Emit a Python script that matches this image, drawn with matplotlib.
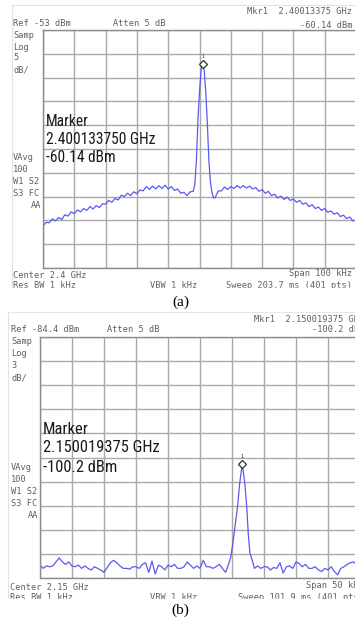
import numpy as np
import matplotlib.pyplot as plt
from matplotlib import font_manager
from matplotlib.patches import Rectangle

# ---- panel (a): centre 2.4 GHz, span 100 kHz, ref -53 dBm, 5 dB/div ----
floor_a_left = [
    -94.2, -93.4, -93.5, -92.7, -93.1, -92.4, -92.8, -91.8, -92.1, -91.2,
    -91.6, -90.8, -91.2, -90.5, -90.9, -90.1, -90.6, -89.9, -90.3, -89.5,
    -89.6, -88.8, -89.2, -88.4, -88.7, -87.7, -88.0, -87.3, -87.8, -87.0,
    -87.4, -86.6, -86.8, -85.9, -86.5, -85.8, -86.4, -85.7, -86.3, -85.6,
    -86.4, -85.9, -86.7, -86.4, -87.3, -87.1, -87.8, -87.0,
]  # -50 .. -3 kHz
peak_a_khz = [-2.0, -1.5, -1.0, -0.5, 0.0, 0.5, 1.0, 1.5, 2.0, 2.5, 3.0, 3.5, 4.0, 4.5]
peak_a_dbm = [-86.9, -85.5, -80.5, -72.0, -66.0, -61.5, -60.14, -61.5, -66.0,
              -72.5, -80.5, -85.0, -87.2, -88.3]
floor_a_right = [
    -88.2, -86.8, -86.8, -86.0, -86.5, -85.9, -86.3, -85.7, -86.2, -85.7,
    -86.2, -85.8, -86.4, -86.1, -86.9, -86.5, -87.3, -86.9, -87.8, -87.5,
    -88.3, -87.9, -88.6, -88.1, -88.8, -88.5, -89.2, -88.8, -89.6, -89.3,
    -90.1, -89.7, -90.5, -90.2, -90.9, -90.5, -91.3, -91.0, -91.7, -91.4,
    -92.2, -91.9, -92.6, -92.3, -93.1, -92.9,
]  # 5 .. 50 kHz
mkr_a_khz, mkr_a_dbm = 1.0, -60.14

# ---- panel (b): centre 2.15 GHz, span 50 kHz, ref -84.4 dBm, 3 dB/div ----
floor_b_left = [
    -112.8, -113.2, -112.9, -113.0, -112.9, -112.4, -111.9, -112.4, -112.7, -112.4,
    -112.9, -113.0, -112.8, -113.2, -112.9, -113.2, -113.4, -113.0, -113.2, -113.4,
    -113.7, -113.1, -112.5, -112.2, -112.5, -112.9, -113.2, -113.2, -113.3, -113.0,
    -113.0, -113.2, -112.7, -112.5, -113.7, -112.3, -113.9, -112.8, -113.0, -113.4,
    -112.8, -113.0, -112.7, -113.2, -113.2, -113.0, -112.4, -112.8, -113.2, -112.9,
    -113.2, -112.2, -113.0, -113.0, -113.2, -113.0, -112.7, -113.2, -113.7,
]  # -25 .. 4 kHz
peak_b_khz = [4.5, 4.8, 5.1, 5.5, 5.9, 6.2, 6.6, 7.0, 7.3, 7.55, 7.8, 8.2]
peak_b_dbm = [-112.6, -111.8, -110.3, -107.8, -105.3, -102.6, -100.2, -102.6,
              -105.5, -109.0, -111.3, -112.3]
floor_b_right = [
    -113.2, -112.9, -113.2, -113.0, -113.0, -113.4, -113.1, -113.2, -112.5, -113.8,
    -113.0, -112.9, -113.2, -112.4, -112.6, -113.0, -112.7, -113.2, -113.2, -113.0,
    -113.4, -113.6, -113.2, -113.4, -113.0, -113.6, -114.0, -113.2, -113.0, -112.7,
    -112.5, -112.4, -112.8, -112.8,
]  # 8.5 .. 25 kHz
mkr_b_khz, mkr_b_dbm = 6.6, -100.2

TRACE = "#5a5af2"
GRID = "#a9a9a9"
TXT = "#5f5f5f"
W, H = 355, 619


def narrow_font():
    """Pick a condensed sans for the big marker readout."""
    have = {(f.name, f.stretch) for f in font_manager.fontManager.ttflist}
    names = {n for n, _ in have}
    for fam in ["Liberation Sans Narrow", "Arial Narrow", "Roboto Condensed",
                "Open Sans Condensed", "Noto Sans Condensed"]:
        if fam in names:
            return dict(family=fam), 1.0
    for fam in ["DejaVu Sans", "Noto Sans", "Open Sans", "Roboto"]:
        if any(n == fam and s not in ("normal", 500) and "cond" in str(s)
               for n, s in have):
            return dict(family=fam, stretch="condensed"), 1.0
    return dict(family="Roboto"), 0.88


def trace(left, start, step, pk_f, pk_l, right, rstart):
    f = np.concatenate([start + step * np.arange(len(left)), pk_f,
                        rstart + step * np.arange(len(right))])
    return f, np.concatenate([left, pk_l, right])


def screen(rect, xlim, ylim, ndiv=10):
    x0, y0, x1, y1 = rect
    ax = fig.add_axes([x0 / W, 1 - y1 / H, (x1 - x0) / W, (y1 - y0) / H])
    ax.set_xlim(*xlim)
    ax.set_ylim(*ylim)
    ax.set_xticks(np.linspace(*xlim, ndiv + 1))
    ax.set_yticks(np.linspace(*ylim, ndiv + 1))
    ax.tick_params(length=0, labelbottom=False, labelleft=False)
    ax.grid(True, color=GRID, lw=1.0)
    for s in ax.spines.values():
        s.set_color("#8c8c8c")
        s.set_linewidth(1.0)
    return ax


def marker(ax, x, y):
    ax.plot([x], [y], marker="D", ms=3.8, mfc="white", mec="#333333", mew=0.9,
            zorder=5)
    ax.annotate("1", (x, y), xytext=(0, 5.5), textcoords="offset points",
                ha="center", va="center", fontsize=3.8, color="#333333")


fig = plt.figure(figsize=(W / 100, H / 100), dpi=100)

fa, la = trace(floor_a_left, -50, 1.0, peak_a_khz, peak_a_dbm, floor_a_right, 5)
ax_a = screen((43, 30, 356, 268), (-50, 50), (-103, -53))
ax_a.plot(fa, la, color=TRACE, lw=0.9)
marker(ax_a, mkr_a_khz, mkr_a_dbm)

fb, lb = trace(floor_b_left, -25, 0.5, peak_b_khz, peak_b_dbm, floor_b_right, 8.5)
ax_b = screen((40, 337, 360, 578), (-25, 25), (-114.4, -84.4))
ax_b.plot(fb, lb, color=TRACE, lw=0.9)
marker(ax_b, mkr_b_khz, mkr_b_dbm)

# overlay in pixel units for annotation text and the screenshot edges
pg = fig.add_axes([0, 0, 1, 1], zorder=10)
pg.set_xlim(0, W)
pg.set_ylim(H, 0)
pg.axis("off")
pg.patch.set_alpha(0)

mono = dict(family="DejaVu Sans Mono", fontsize=6.2, color=TXT, va="center")
nf, scale = narrow_font()
big = dict(color="#1a1a1a", va="center", **nf)


def small(x, y, s, ha="left"):
    pg.text(x, y, s, ha=ha, **mono)


def readout(x, ys, lines, size):
    for yy, s in zip(ys, lines):
        pg.text(x, yy, s, fontsize=size * scale, **big)


# panel (a) annotations
pg.plot([12, 355], [5, 5], color="#e2e2e2", lw=0.8)
pg.plot([12, 12], [5, 288], color="#e2e2e2", lw=0.8)
small(13, 23, "Ref -53 dBm")
small(113, 23, "Atten 5 dB")
small(352, 12, "Mkr1  2.40013375 GHz", "right")
small(352, 25, "-60.14 dBm", "right")
for yy, s in zip([35, 47, 58, 70], ["Samp", "Log", "5", "dB/"]):
    small(13, yy, s)
for yy, s in zip([158, 169, 182, 193], ["VAvg", "100", "W1 S2", "S3 FC"]):
    small(13, yy, s)
small(41, 205, "AA", "right")
readout(46, [122, 139, 157], ["Marker", "2.400133750 GHz", "-60.14 dBm"], 11.2)
small(13, 275, "Center 2.4 GHz")
small(352, 274, "Span 100 kHz", "right")
small(13, 286, "Res BW 1 kHz")
small(150, 286, "VBW 1 kHz")
small(352, 286, "Sweep 203.7 ms (401 pts)", "right")
pg.add_patch(Rectangle((0, 288), W, 23, color="white", zorder=3))
pg.text(181, 302, "(a)", family="Liberation Serif", fontsize=11, color="black",
        ha="center", va="center", zorder=4)

# panel (b) annotations
pg.plot([8, 355], [312, 312], color="#e2e2e2", lw=0.8)
pg.plot([8, 8], [312, 598], color="#e2e2e2", lw=0.8)
small(11, 330, "Ref -84.4 dBm")
small(107, 330, "Atten 5 dB")
small(364, 320, "Mkr1  2.150019375 GHz", "right")
small(364, 330, "-100.2 dBm", "right")
for yy, s in zip([342, 354, 366, 378], ["Samp", "Log", "3", "dB/"]):
    small(11, yy, s)
for yy, s in zip([467, 480, 492, 503], ["VAvg", "100", "W1 S2", "S3 FC"]):
    small(11, yy, s)
small(38, 516, "AA", "right")
readout(43, [430, 448, 467], ["Marker", "2.150019375 GHz", "-100.2 dBm"], 11.9)
small(10, 587, "Center 2.15 GHz")
small(364, 586, "Span 50 kHz", "right")
small(10, 597, "Res BW 1 kHz")
small(150, 597, "VBW 1 kHz")
small(364, 597, "Sweep 101.9 ms (401 pts)", "right")
pg.add_patch(Rectangle((0, 598.5), W, 21, color="white", zorder=3))
pg.text(180, 610, "(b)", family="Liberation Serif", fontsize=11, color="black",
        ha="center", va="center", zorder=4)

fig.savefig("out.png", dpi=100)
